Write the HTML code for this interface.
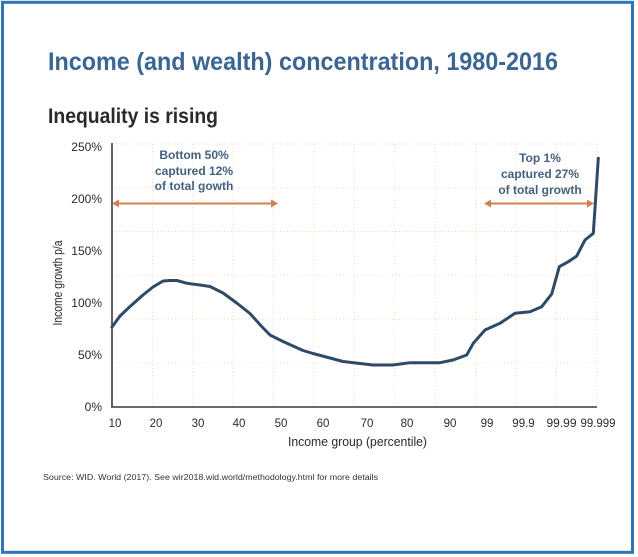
<!DOCTYPE html>
<html>
<head>
<meta charset="utf-8">
<style>
  html,body{margin:0;padding:0;background:#fff;}
  svg{display:block;}
  text{font-family:"Liberation Sans",sans-serif;}
</style>
</head>
<body>
<svg width="638" height="557" viewBox="0 0 638 557" xmlns="http://www.w3.org/2000/svg">
  <rect x="0" y="0" width="638" height="557" fill="#ffffff"/>
  <!-- frame -->
  <rect x="2.5" y="2.3" width="630" height="550" fill="none" stroke="#2f76b3" stroke-width="3"/>

  <!-- titles -->
  <text x="48" y="70" font-size="25" font-weight="bold" fill="#3b6593" textLength="510" lengthAdjust="spacingAndGlyphs">Income (and wealth) concentration, 1980-2016</text>
  <text x="48" y="123" font-size="21" font-weight="bold" fill="#2a2a2a" textLength="170" lengthAdjust="spacingAndGlyphs">Inequality is rising</text>

  <!-- grid -->
  <g stroke="#ebd8b8" stroke-width="1" stroke-dasharray="1,2.5" fill="none">
    <line x1="112" y1="144" x2="597" y2="144"/>
    <line x1="112" y1="187.8" x2="597" y2="187.8"/>
    <line x1="112" y1="231.5" x2="597" y2="231.5"/>
    <line x1="112" y1="275.3" x2="597" y2="275.3"/>
    <line x1="112" y1="319" x2="597" y2="319"/>
    <line x1="112" y1="363" x2="597" y2="363"/>
    <line x1="152.4" y1="144" x2="152.4" y2="407"/>
    <line x1="192.8" y1="144" x2="192.8" y2="407"/>
    <line x1="233.2" y1="144" x2="233.2" y2="407"/>
    <line x1="273.6" y1="144" x2="273.6" y2="407"/>
    <line x1="314" y1="144" x2="314" y2="407"/>
    <line x1="354.4" y1="144" x2="354.4" y2="407"/>
    <line x1="394.8" y1="144" x2="394.8" y2="407"/>
    <line x1="435.2" y1="144" x2="435.2" y2="407"/>
    <line x1="475.6" y1="144" x2="475.6" y2="407"/>
    <line x1="516" y1="144" x2="516" y2="407"/>
    <line x1="556.4" y1="144" x2="556.4" y2="407"/>
    <line x1="596.8" y1="144" x2="596.8" y2="407"/>
  </g>

  <!-- axes -->
  <line x1="112" y1="143" x2="112" y2="407.5" stroke="#3a3a3a" stroke-width="1.6"/>
  <line x1="111.2" y1="407" x2="597" y2="407" stroke="#3a3a3a" stroke-width="1.6"/>

  <!-- y labels -->
  <g font-size="12" fill="#2a2a2a" text-anchor="end">
    <text x="102" y="151">250%</text>
    <text x="102" y="203">200%</text>
    <text x="102" y="255">150%</text>
    <text x="102" y="307">100%</text>
    <text x="102" y="359">50%</text>
    <text x="102" y="411">0%</text>
  </g>
  <text x="0" y="0" font-size="12.5" fill="#2a2a2a" text-anchor="middle" transform="translate(62,283) rotate(-90)" textLength="85" lengthAdjust="spacingAndGlyphs">Income growth p/a</text>

  <!-- x labels -->
  <g font-size="11.5" fill="#2a2a2a" text-anchor="middle">
    <text x="115" y="427">10</text>
    <text x="156" y="427">20</text>
    <text x="198" y="427">30</text>
    <text x="239" y="427">40</text>
    <text x="281" y="427">50</text>
    <text x="323" y="427">60</text>
    <text x="367" y="427">70</text>
    <text x="407" y="427">80</text>
    <text x="450" y="427">90</text>
    <text x="487" y="427">99</text>
    <text x="523.5" y="427">99.9</text>
    <text x="561.5" y="427" textLength="30" lengthAdjust="spacingAndGlyphs">99.99</text>
    <text x="598" y="427" textLength="35" lengthAdjust="spacingAndGlyphs">99.999</text>
  </g>
  <text x="288" y="446" font-size="12.5" fill="#2a2a2a" textLength="139" lengthAdjust="spacingAndGlyphs">Income group (percentile)</text>

  <!-- source -->
  <text x="43" y="480" font-size="8" fill="#333" textLength="335" lengthAdjust="spacingAndGlyphs">Source: WID. World (2017). See wir2018.wid.world/methodology.html for more details</text>

  <!-- arrows -->
  <g stroke="#d3814e" stroke-width="2" fill="#d3814e">
    <line x1="116" y1="203.5" x2="274" y2="203.5"/>
    <line x1="488" y1="203.5" x2="590" y2="203.5"/>
  </g>
  <g fill="#d3814e">
    <polygon points="112,203.5 119,199.5 119,207.5"/>
    <polygon points="278,203.5 271,199.5 271,207.5"/>
    <polygon points="484,203.5 491,199.5 491,207.5"/>
    <polygon points="594,203.5 587,199.5 587,207.5"/>
  </g>

  <!-- annotations -->
  <g font-size="12" font-weight="bold" fill="#44607f" text-anchor="middle">
    <text x="194" y="159">Bottom 50%</text>
    <text x="194" y="175">captured 12%</text>
    <text x="194" y="190">of total gowth</text>
    <text x="540" y="162">Top 1%</text>
    <text x="540" y="178">captured 27%</text>
    <text x="540" y="194">of total growth</text>
  </g>

  <!-- curve -->
  <polyline fill="none" stroke="#2f4a66" stroke-width="3" stroke-linejoin="round" stroke-linecap="round"
    points="112,327 120,316 130,306.5 143,295 153,287 163,281 170,280.5 177,280.5 187,283.3 200,285 210,286.5 223,293 236.7,303 250,313.5 261.7,326.5 270,335 283,341.5 303,350.5 313,353.5 330,358 343,361.5 360,363.5 373,365 393,365 410,362.7 440,362.7 453,360 466.7,355 473.3,343.3 485,330 500,323.3 515,313.3 530,311.7 541.7,306.7 551.7,294 559.3,266.7 568.3,261.7 576.7,256 585,240 593.3,233.3 598.3,158.3"/>
</svg>
</body>
</html>
